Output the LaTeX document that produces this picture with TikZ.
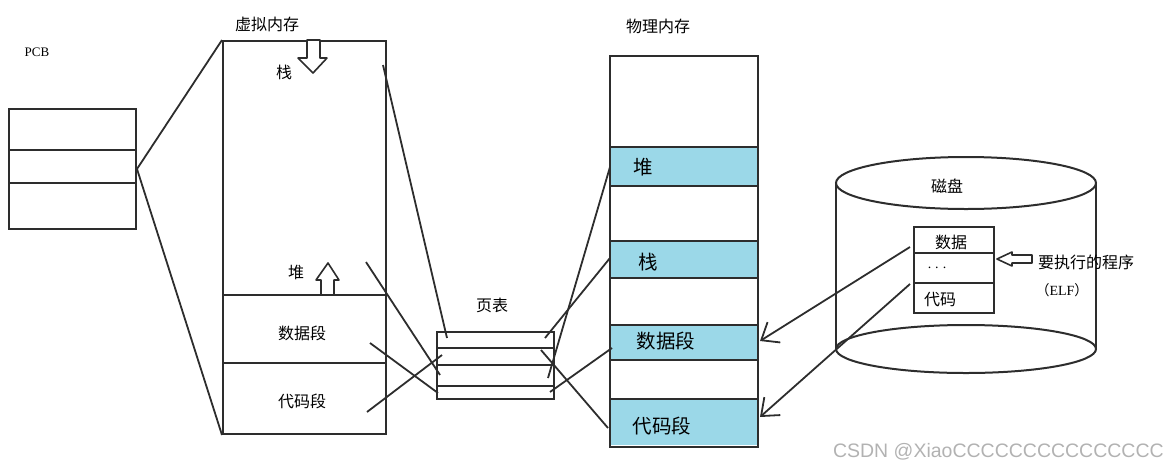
\documentclass[tikz,border=0pt]{standalone}
\usepackage{fontspec}
\setmainfont{Liberation Serif}
\newfontfamily\cjk{Noto Sans CJK SC}
\newfontfamily\wmfont{Liberation Sans}
\usetikzlibrary{arrows.meta}
\definecolor{bandblue}{RGB}{155,216,232}
\definecolor{ink}{RGB}{45,45,45}
\tikzset{
  sk/.style={line width=2pt, draw=ink},
  boxn/.style={sk, draw, inner sep=0pt, anchor=north west},
  cn/.style={font=\cjk\fontsize{16}{16}\selectfont, inner sep=0pt, text=black},
  cb/.style={font=\cjk\fontsize{19.5}{20}\selectfont, inner sep=0pt, text=black},
  band/.style={fill=bandblue, draw=none, inner sep=0pt, anchor=north west},
  link/.style={line width=1.8pt, draw=ink},
  arr/.style={link, -{Straight Barb[length=15pt,width=24pt,line width=1.8pt]}},
  blockarr/.style={line width=1.6pt, draw=ink, fill=white, line join=round},
}
\begin{document}
\begin{tikzpicture}[x=1pt,y=-1pt]
\useasboundingbox (0,0) rectangle (1168,472);

% ---------- PCB ----------
\node[font=\fontsize{13}{13}\selectfont, inner sep=0pt] (pcbl) at (37,52) {PCB};
\node[boxn, minimum width=127pt, minimum height=120pt] (pcb) at (8,108) {};
\coordinate (pcb1) at (8,150); \coordinate (pcb1r) at (135,150);
\coordinate (pcb2) at (8,183); \coordinate (pcb2r) at (135,183);
\draw[sk] (pcb1) -- (pcb1r);
\draw[sk] (pcb2) -- (pcb2r);

% ---------- virtual memory ----------
\node[cn] (vml) at (267,24) {虚拟内存};
\node[boxn, minimum width=163pt, minimum height=393pt] (vm) at (222,40) {};
\coordinate (vmh1) at (222,295); \coordinate (vmh1r) at (385,295);
\coordinate (vmh2) at (222,363); \coordinate (vmh2r) at (385,363);
\draw[sk] (vmh1) -- (vmh1r);
\draw[sk] (vmh2) -- (vmh2r);
\node[cn] (vstack) at (284,72) {栈};
\node[cn] (vheap) at (296,272) {堆};
\node[cn] (vdata) at (302,333) {数据段};
\node[cn] (vcode) at (302,401) {代码段};
% down arrow (stack grows down)
\draw[blockarr] (307,40) -- (320,40) -- (320,58) -- (327,58) -- (313,73) -- (298,58) -- (307,58) -- cycle;
% up arrow (heap grows up)
\draw[blockarr] (321,295) -- (334,295) -- (334,280) -- (339,280) -- (328,263) -- (316,280) -- (321,280) -- cycle;

% PCB -> virtual memory
\draw[link] (pcb.east) -- (vm.north west);
\draw[link] (pcb.east) -- (vm.south west);

% ---------- page table ----------
\node[cn] (ptl) at (492,305) {页表};
\node[boxn, minimum width=117pt, minimum height=67pt] (pt) at (436,331) {};
\coordinate (pth1) at (436,348); \coordinate (pth1r) at (553,348);
\coordinate (pth2) at (436,365); \coordinate (pth2r) at (553,365);
\coordinate (pth3) at (436,386); \coordinate (pth3r) at (553,386);
\draw[sk] (pth1) -- (pth1r);
\draw[sk] (pth2) -- (pth2r);
\draw[sk] (pth3) -- (pth3r);

% ---------- physical memory ----------
\node[cn] (pml) at (658,26) {物理内存};
\node[band, minimum width=148pt, minimum height=39pt] (bheap) at (609,147) {};
\node[band, minimum width=148pt, minimum height=37pt] (bstack) at (609,241) {};
\node[band, minimum width=148pt, minimum height=35pt] (bdata) at (609,325) {};
\node[band, minimum width=148pt, minimum height=46pt] (bcode) at (609,399) {};
\node[boxn, minimum width=148pt, minimum height=391pt] (pm) at (609,55) {};
\foreach \yy/\nm in {147/a,186/b,241/c,278/d,325/e,360/f,399/g}{
  \coordinate (pl\nm) at (609,\yy); \coordinate (pr\nm) at (757,\yy);
  \draw[sk] (pl\nm) -- (pr\nm);
}
\node[cb] (pheap) at (643,167) {堆};
\node[cb] (pstack) at (648,262) {栈};
\node[cb] (pdata) at (666,341) {数据段};
\node[cb] (pcode) at (662,426) {代码段};

% virtual memory -> page table
\coordinate (vs) at (383,65);  \coordinate (t1a) at (447,338);
\coordinate (vh) at (366,262); \coordinate (t3a) at (440,375);
\coordinate (vd) at (370,343); \coordinate (t4a) at (438,393);
\coordinate (vc) at (367,412); \coordinate (t2a) at (442,355);
\draw[link] (vs) -- (t1a);
\draw[link] (vh) -- (t3a);
\draw[link] (vd) -- (t4a);
\draw[link] (vc) -- (t2a);

% page table -> physical memory
\coordinate (t1b) at (545,338); \coordinate (ms) at (610,258);
\coordinate (t3b) at (548,378); \coordinate (mh) at (610,167);
\coordinate (t2b) at (541,350); \coordinate (mc) at (608,428);
\coordinate (t4b) at (550,392); \coordinate (md) at (612,348);
\draw[link] (t1b) -- (ms);
\draw[link] (t3b) -- (mh);
\draw[link] (t2b) -- (mc);
\draw[link] (t4b) -- (md);

% ---------- disk ----------
\coordinate (dtl) at (836,183); \coordinate (dbl) at (836,349);
\coordinate (dtr) at (1096,183); \coordinate (dbr) at (1096,349);
\draw[sk] (dtl) -- (dbl);
\draw[sk] (dtr) -- (dbr);
\draw[sk] (966,183) ellipse [x radius=130pt, y radius=26pt];
\draw[sk] (966,349) ellipse [x radius=130pt, y radius=24pt];
\node[cn] (diskl) at (947,186) {磁盘};
\node[boxn, fill=white, minimum width=80pt, minimum height=86pt] (elf) at (913,226) {};
\coordinate (eh1) at (913,253); \coordinate (eh1r) at (993,253);
\coordinate (eh2) at (913,283); \coordinate (eh2r) at (993,283);
\draw[sk] (eh1) -- (eh1r);
\draw[sk] (eh2) -- (eh2r);
\node[cn] (edata) at (951,242) {数据};
\node[font=\fontsize{14}{14}\selectfont, inner sep=0pt] (edots) at (937,268) {.\hspace{4pt}.\hspace{4pt}.};
\node[cn] (ecode) at (940,300) {代码};
% left block arrow
\draw[blockarr] (1032,255) -- (1012,255) -- (1012,252) -- (997,259) -- (1012,266) -- (1012,263) -- (1032,263) -- cycle;
\node[cn, anchor=west] (prog) at (1038,262) {要执行的程序};
\node[font=\fontsize{14}{14}\selectfont, inner sep=0pt] (elfl) at (1062,290) {{\cjk （}ELF{\cjk ）}};

% disk -> physical memory
\coordinate (dd) at (910,247); \coordinate (pdr) at (760,341);
\coordinate (dc) at (910,284); \coordinate (pcr) at (760,417);
\draw[arr] (dd) -- (pdr);
\draw[arr] (dc) -- (pcr);

% watermark
\node[font=\wmfont\fontsize{19.5}{19.5}\selectfont, text=black!30, anchor=east, inner sep=0pt] (wm) at (1164,452) {CSDN @XiaoCCCCCCCCCCCCCCC};
\end{tikzpicture}
\end{document}
